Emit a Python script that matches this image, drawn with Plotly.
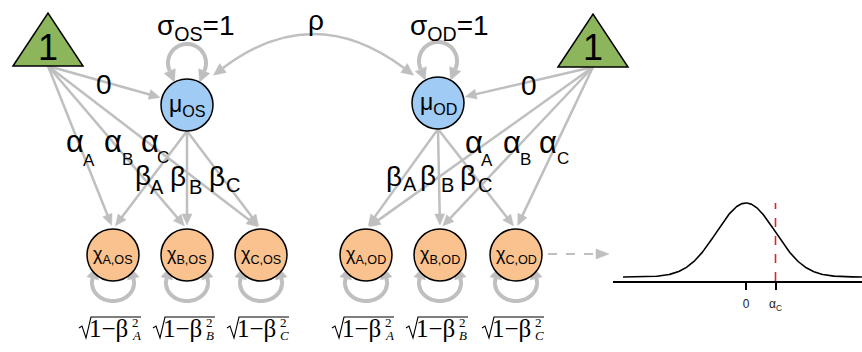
import numpy as np
import plotly.graph_objects as go

# ---------------- data / labels ----------------
groups = ["OS", "OD"]
indicators = ["A", "B", "C"]
intercept_text = "1"
mean_path_text = "0"
variance_text = "=1"
corr_text = "ρ"
curve_mean = 0.0
curve_sd = 1.0
alpha_c = 1.0
curve_tickvals = [0.0, alpha_c]
curve_ticktext = ["0", "α<sub>C</sub>"]

# ---------------- geometry / styles ----------------
W, H = 862, 352
GRAY = "#BFBFBF"
GREEN = "#8DB55B"
BLUE = "#9FCBF4"
ORANGE = "#F9C28E"
SANS = "Liberation Sans, Arial, sans-serif"
SERIF = "Liberation Serif, Times New Roman, serif"

tri_base = {"OS": (48, 66), "OD": (593, 67)}
tri_half, tri_h = 35, 53
mu_pos = {"OS": (187, 105), "OD": (438, 103)}
chi_x = {"OS": [113, 187, 261], "OD": [366, 440, 516]}
chi_y = 255
R = 26

shapes = []
annotations = []


def unit(v):
    v = np.asarray(v, float)
    return v / np.hypot(*v)


def head(tip, d, L=11, w=10, color=GRAY):
    d = unit(d)
    tip = np.asarray(tip, float)
    base = tip - d * L
    p = np.array([-d[1], d[0]])
    a = base + p * w / 2
    b = base - p * w / 2
    shapes.append(dict(type="path", xref="x", yref="y",
                       path=f"M {tip[0]:.2f},{tip[1]:.2f} L {a[0]:.2f},{a[1]:.2f} L {b[0]:.2f},{b[1]:.2f} Z",
                       fillcolor=color, line=dict(color=color, width=0.5)))


def arrow(p0, tip, width=2.5, L=11, w=10, dash=None, color=GRAY):
    p0 = np.asarray(p0, float)
    tip = np.asarray(tip, float)
    d = unit(tip - p0)
    end = tip - d * (L - 1)
    ln = dict(color=color, width=width)
    if dash:
        ln["dash"] = dash
    shapes.append(dict(type="line", xref="x", yref="y", x0=p0[0], y0=p0[1],
                       x1=end[0], y1=end[1], line=ln))
    head(tip, d, L, w, color)


def poly_path(pts):
    return "M " + " L ".join(f"{x:.2f},{y:.2f}" for x, y in pts)


def loop(pts, width=4, L=12, w=12):
    shapes.append(dict(type="path", xref="x", yref="y", path=poly_path(pts),
                       line=dict(color=GRAY, width=width)))
    d0 = pts[0] - pts[1]
    d1 = pts[-1] - pts[-2]
    head(pts[0] + unit(d0) * L, d0, L, w)
    head(pts[-1] + unit(d1) * L, d1, L, w)


def text(x, y, s, size, family=SANS, color="black", xanchor="center"):
    annotations.append(dict(x=x, y=y, xref="x", yref="y", text=s, showarrow=False,
                            xanchor=xanchor, yanchor="middle", borderpad=0,
                            font=dict(size=size, family=family, color=color)))


# ---------------- edges ----------------
for g in groups:
    bx, by = tri_base[g]
    mx, my = mu_pos[g]
    d = unit((mx - bx, my - by))
    arrow((bx, by), (mx - d[0] * (R + 2), my - d[1] * (R + 2)))
    for cx in chi_x[g]:
        top = np.array([cx, chi_y - R], float)
        d = unit(top - (bx, by))
        arrow((bx, by), top - d * 4)
        src = np.array([mx, my + R], float)
        d = unit(top - src)
        arrow(src, top - d * 4)

th = np.radians(np.linspace(-25, 205, 60))
for g in groups:
    mx, my = mu_pos[g]
    pts = np.c_[mx + 19 * np.cos(th), (my - 42) - 19 * np.sin(th)]
    loop(pts)

th2 = np.radians(np.linspace(195, -15, 60))
for g in groups:
    for cx in chi_x[g]:
        pts = np.c_[cx + 21 * np.cos(th2), (chi_y + 28) + 18 * np.sin(th2)]
        loop(pts, L=11, w=12)

p0 = np.array([223, 68.0]); pc = np.array([313, 0.0]); p2 = np.array([404, 68.0])
shapes.append(dict(type="path", xref="x", yref="y",
                   path=f"M {p0[0]},{p0[1]} Q {pc[0]},{pc[1]} {p2[0]},{p2[1]}",
                   line=dict(color=GRAY, width=2.5)))
head(p0 + unit(p0 - pc) * 12, p0 - pc, 12, 11)
head(p2 + unit(p2 - pc) * 12, p2 - pc, 12, 11)

arrow((548, 254), (609, 254), width=2, L=13, w=10, dash="dash")

# ---------------- nodes ----------------
for g in groups:
    bx, by = tri_base[g]
    shapes.append(dict(type="path", xref="x", yref="y",
                       path=f"M {bx - tri_half},{by} L {bx},{by - tri_h} L {bx + tri_half},{by} Z",
                       fillcolor=GREEN, line=dict(color="black", width=1.5)))
    mx, my = mu_pos[g]
    shapes.append(dict(type="circle", xref="x", yref="y", x0=mx - R, x1=mx + R,
                       y0=my - R, y1=my + R, fillcolor=BLUE, line=dict(color="black", width=1.5)))
    for cx in chi_x[g]:
        shapes.append(dict(type="circle", xref="x", yref="y", x0=cx - R, x1=cx + R,
                           y0=chi_y - R, y1=chi_y + R, fillcolor=ORANGE,
                           line=dict(color="black", width=1.5)))

# ---------------- labels ----------------
for g in groups:
    bx, by = tri_base[g]
    text(bx, 47, intercept_text, 36)
    mx, my = mu_pos[g]
    text(mx, my, f"μ<sub>{g}</sub>", 23)
    for cx, ind in zip(chi_x[g], indicators):
        text(cx, chi_y, f"χ<sub>{ind},{g}</sub>", 18)
        shapes.append(dict(type="path", xref="x", yref="y",
                           path=f"M {cx-34},328 L {cx-31},326 L {cx-27},338 L {cx-22},317 L {cx+28},317",
                           line=dict(color="black", width=1.1)))
        text(cx + 16, 328, "1−β", 25, SERIF, xanchor="right")
        text(cx + 18, 322, "2", 13, SERIF, xanchor="left")
        text(cx + 18, 335, f"<i>{ind}</i>", 13, SERIF, xanchor="left")

text(196, 27, "σ<sub>OS</sub>" + variance_text, 28)
text(449, 27, "σ<sub>OD</sub>" + variance_text, 28)
text(316, 20, corr_text, 28)
text(104, 84, mean_path_text, 28)
text(529, 85, mean_path_text, 28)

alpha_pos = {"OS": [(75, 141), (113, 141), (150, 141)], "OD": [(474, 142), (512, 142), (548, 142)]}
alpha_sub = {"OS": [(89, 160), (127, 159), (163, 157)], "OD": [(487, 160), (525, 159), (563, 158)]}
beta_pos = {"OS": [(143, 175), (178, 176), (217, 176)], "OD": [(394, 176), (428, 175), (468, 175)]}
beta_sub = {"OS": [(157, 187), (195, 187), (233, 185)], "OD": [(410, 184), (447, 185), (485, 185)]}
for g in groups:
    for i, ind in enumerate(indicators):
        text(*alpha_pos[g][i], "α", 31)
        text(*alpha_sub[g][i], ind, 17)
        text(*beta_pos[g][i], "β", 28)
        text(*beta_sub[g][i], ind, 20)

# ---------------- density panel ----------------
z = np.linspace(-4.17, 3.93, 400)
pdf = np.exp(-0.5 * ((z - curve_mean) / curve_sd) ** 2) / (curve_sd * np.sqrt(2 * np.pi))
peak = 1 / (curve_sd * np.sqrt(2 * np.pi))

fig = go.Figure()
fig.add_trace(go.Scatter(x=z, y=pdf, xaxis="x2", yaxis="y2", mode="lines",
                         line=dict(color="black", width=1.6), hoverinfo="skip", showlegend=False))
fig.add_trace(go.Scatter(x=[alpha_c, alpha_c], y=[-0.0216, peak], xaxis="x2", yaxis="y2",
                         mode="lines", line=dict(color="#D9262E", width=1.6, dash="dash"),
                         hoverinfo="skip", showlegend=False))

px_per_sd = 29.5
fig.update_layout(
    width=W, height=H, margin=dict(l=0, r=0, t=0, b=0),
    paper_bgcolor="white", plot_bgcolor="rgba(0,0,0,0)",
    showlegend=False,
    xaxis=dict(range=[0, W], visible=False, domain=[0, 1], fixedrange=True),
    yaxis=dict(range=[H, 0], visible=False, domain=[0, 1], fixedrange=True),
    xaxis2=dict(domain=[613 / W, 1], anchor="y2",
                range=[(613 - 746) / px_per_sd, (862 - 746) / px_per_sd],
                showline=True, linecolor="black", linewidth=1.6,
                ticks="outside", ticklen=7, tickwidth=1.6, tickcolor="black",
                tickvals=curve_tickvals, ticktext=curve_ticktext,
                ticklabelstandoff=4,
                tickfont=dict(size=12, family=SANS, color="#222"),
                showgrid=False, zeroline=False),
    yaxis2=dict(domain=[(H - 281) / H, (H - 195) / H], anchor="x2",
                range=[-0.0216, 0.442], visible=False, showgrid=False, zeroline=False),
    shapes=shapes, annotations=annotations,
)

fig.write_html("out.html", config={"displayModeBar": False},
               post_script="document.body.style.margin='0';document.body.style.padding='0';")
